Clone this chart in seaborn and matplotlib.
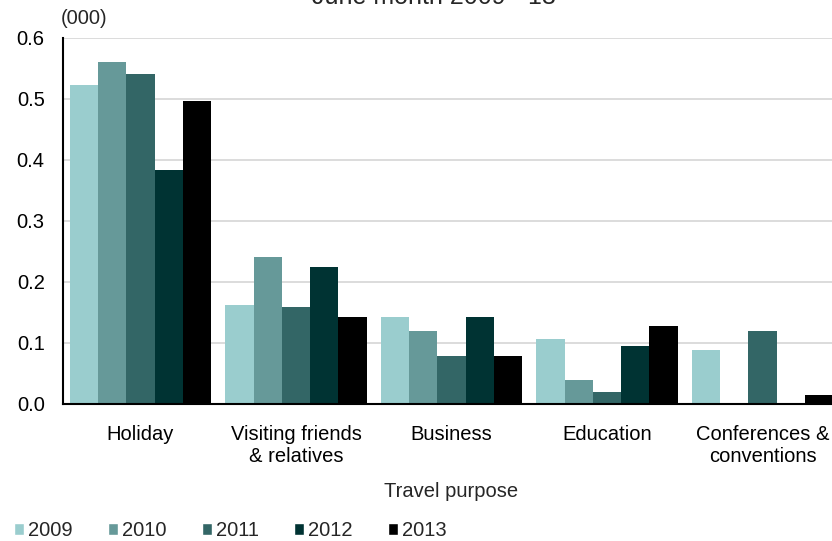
import pandas as pd
import seaborn as sns
import matplotlib.pyplot as plt
from matplotlib.patches import Patch

# ===================== Data =====================
purposes = ["Holiday", "Visiting friends\n& relatives", "Business", "Education", "Conferences &\nconventions"]
years = ["2009", "2010", "2011", "2012", "2013"]
v2009 = [0.523, 0.162, 0.143, 0.107, 0.089]
v2010 = [0.560, 0.240, 0.119, 0.039, 0.0]
v2011 = [0.541, 0.159, 0.079, 0.019, 0.119]
v2012 = [0.384, 0.224, 0.143, 0.094, 0.0]
v2013 = [0.497, 0.143, 0.079, 0.127, 0.014]
colors = ["#9ACDCE", "#669999", "#336666", "#003333", "#000000"]

rows = []
for year, vals in zip(years, [v2009, v2010, v2011, v2012, v2013]):
    for p, v in zip(purposes, vals):
        rows.append({"purpose": p, "year": year, "value": v})
df = pd.DataFrame(rows)

# ===================== Plot =====================
sns.set_style("white")
plt.rcParams['font.family'] = ['Liberation Sans', 'DejaVu Sans']
FS = 14.5

fig = plt.figure(figsize=(8.32, 5.41), dpi=100)
# axes runs a little past the right edge, as in the original
ax = fig.add_axes([0.0754, 0.2535, 0.9345, 0.6768])

sns.barplot(data=df, x="purpose", y="value", hue="year",
            palette=colors, width=0.907, gap=0, errorbar=None,
            saturation=1, legend=False, linewidth=0, ax=ax)

ax.set_ylim(0, 0.6)
ax.set_yticks([0, 0.1, 0.2, 0.3, 0.4, 0.5, 0.6])
ax.set_yticklabels([f"{t:.1f}" for t in ax.get_yticks()])
ax.set_xlim(-0.5, 4.5)
ax.yaxis.grid(True, color="#D9D9D9", linewidth=1.3)
ax.set_axisbelow(True)
for s in ["top", "right"]:
    ax.spines[s].set_visible(False)
for s in ["left", "bottom"]:
    ax.spines[s].set_color("black")
    ax.spines[s].set_linewidth(1.5)
ax.tick_params(axis="both", length=0, labelsize=FS, colors="black")
ax.tick_params(axis="x", pad=15)
ax.tick_params(axis="y", pad=13)
ax.set_xlabel("Travel purpose", fontsize=FS, labelpad=12)
ax.set_ylabel("")

fig.text(0.073, 0.965, "(000)", fontsize=FS, ha="left", va="center")
fig.text(0.522, 0.9917, "June month 2009 - 13", fontsize=18, ha="center", va="baseline")

handles = [Patch(facecolor=c, label=y) for c, y in zip(colors, years)]
fig.legend(handles=handles, loc="lower left", bbox_to_anchor=(-0.005, -0.032),
           ncol=5, frameon=False, fontsize=FS, handlelength=0.5, handleheight=0.5,
           handletextpad=0.2, columnspacing=1.75)

plt.savefig("out.png", dpi=100)
plt.close()
